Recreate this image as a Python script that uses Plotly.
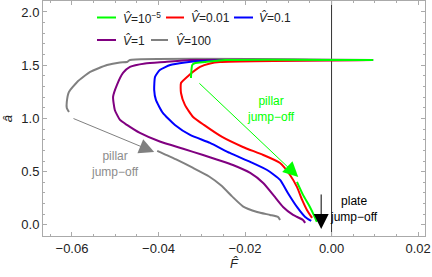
import plotly.graph_objects as go

# ---- data ----
v100_F = [0.0096, -0.0466, -0.0473, -0.0489, -0.0519, -0.0558, -0.0588, -0.0607, -0.0612, -0.0612, -0.0607,
          None,
          -0.0403, -0.0357, -0.0320, -0.0283, -0.0255, -0.0230, -0.0205, -0.0172, -0.0142, -0.0124, -0.0119]
v100_a = [1.549, 1.549, 1.530, 1.526, 1.502, 1.437, 1.343, 1.249, 1.155, 1.099, 1.061,
          None,
          0.695, 0.610, 0.535, 0.455, 0.370, 0.268, 0.175, 0.122, 0.094, 0.075, 0.047]

v1_F = [0.0096, -0.0327, -0.0385, -0.0431, -0.0466, -0.0482, -0.0496, -0.0505, -0.0501, -0.0489, -0.0473,
        -0.0443, -0.0397, -0.0343, -0.0297, -0.0262, -0.0228, -0.0188, -0.0158, -0.0131, -0.0112, -0.0089,
        -0.0066, -0.0061]
v1_a = [1.549, 1.549, 1.530, 1.516, 1.484, 1.427, 1.315, 1.202, 1.080, 0.986, 0.939,
        0.864, 0.783, 0.715, 0.657, 0.610, 0.563, 0.488, 0.394, 0.263, 0.169, 0.094,
        0.047, 0.019]

v01_F = [0.0096, -0.0304, -0.0339, -0.0373, -0.0397, -0.0408, -0.0410, -0.0406, -0.0390, -0.0362, -0.0327,
         -0.0281, -0.0235, -0.0188, -0.0149, -0.0119, -0.0101, -0.0080, -0.0061, -0.0047]
v01_a = [1.549, 1.540, 1.526, 1.502, 1.455, 1.390, 1.268, 1.174, 1.052, 0.939, 0.845,
         0.770, 0.676, 0.592, 0.516, 0.423, 0.300, 0.169, 0.075, 0.038]

v001_F = [0.0096, -0.0258, -0.0281, -0.0304, -0.0329, -0.0348, -0.0348, -0.0339, -0.0320, -0.0295, -0.0253,
          -0.0205, -0.0158, -0.0119, -0.0096, -0.0080, -0.0068, -0.0057, -0.0045]
v001_a = [1.549, 1.530, 1.516, 1.484, 1.408, 1.333, 1.239, 1.127, 1.014, 0.939, 0.826,
          0.732, 0.657, 0.582, 0.469, 0.357, 0.235, 0.141, 0.066]

v1e5_F = [0.0096, -0.0246, -0.0292, -0.0315, -0.0322, -0.0325,
          None,
          -0.0080, -0.0066, -0.0050, -0.0038, -0.0034]
v1e5_a = [1.549, 1.549, 1.530, 1.521, 1.502, 1.380,
          None,
          0.404, 0.282, 0.169, 0.066, 0.028]

series_names = ["<i>V̂</i>=100", "<i>V̂</i>=1", "<i>V̂</i>=0.1", "<i>V̂</i>=0.01", "<i>V̂</i>=10<sup>−5</sup>"]
series_F = [v100_F, v1_F, v01_F, v001_F, v1e5_F]
series_a = [v100_a, v1_a, v01_a, v001_a, v1e5_a]
colors = ["#808080", "#800080", "#0000FF", "#FF0000", "#00FF00"]

x_ticks = [-0.06, -0.04, -0.02, 0.0, 0.02]
x_ticklabels = ["−0.06", "−0.04", "−0.02", "0.00", "0.02"]
y_ticks = [0.0, 0.5, 1.0, 1.5, 2.0]
y_ticklabels = ["0.0", "0.5", "1.0", "1.5", "2.0"]

FONT = "Liberation Sans, Arial, sans-serif"

fig = go.Figure()
for F, a, c, n in zip(series_F, series_a, colors, series_names):
    fig.add_trace(go.Scatter(x=F, y=a, mode="lines", name=n, showlegend=False,
                             line=dict(color=c, width=2, shape="spline", smoothing=0.5),
                             connectgaps=False, hoverinfo="skip"))

# vertical line at F = 0
fig.add_shape(type="line", xref="x", yref="paper", x0=0, x1=0, y0=0, y1=1,
              line=dict(color="#333333", width=1), layer="below")

# manual legend (paper coords)
leg = [  # (x0, x1, y, color, text_x, label)
    (97, 116, 17.5, colors[4], 121, series_names[4]),
    (166, 184, 17.5, colors[3], 189, series_names[3]),
    (234, 253, 17.5, colors[2], 257, series_names[2]),
    (97, 116, 40, colors[1], 121, series_names[1]),
    (151, 168, 40, colors[0], 174, series_names[0]),
]
L, R, T, B = 43, 425, 1, 236
def px(x):
    return (x - L) / (R - L)
def py(y):
    return 1 - (y - T) / (B - T)
for x0, x1, yy, c, tx, lab in leg:
    fig.add_shape(type="line", xref="paper", yref="paper", x0=px(x0), x1=px(x1), y0=py(yy), y1=py(yy),
                  line=dict(color=c, width=2))
    fig.add_annotation(xref="paper", yref="paper", x=px(tx), y=py(yy), text=lab, showarrow=False,
                       xanchor="left", yanchor="middle", font=dict(size=12, color="#222222", family=FONT))

# arrows
fig.add_annotation(x=-0.0077, y=0.451, ax=-0.0309, ay=1.343, xref="x", yref="y", axref="x", ayref="y",
                   text="", showarrow=True, arrowhead=2, arrowsize=3, arrowwidth=1, arrowcolor="#00FF00")
fig.add_annotation(x=-0.0410, y=0.685, ax=-0.0600, ay=1.005, xref="x", yref="y", axref="x", ayref="y",
                   text="", showarrow=True, arrowhead=2, arrowsize=3, arrowwidth=1, arrowcolor="#808080")
fig.add_annotation(x=-0.0024, y=-0.038, ax=-0.0024, ay=0.300, xref="x", yref="y", axref="x", ayref="y",
                   text="", showarrow=True, arrowhead=2, arrowsize=3, arrowwidth=1, arrowcolor="#000000")

# labels
fig.add_annotation(x=-0.0501, y=0.575, text="pillar<br>jump−off", showarrow=False,
                   font=dict(size=12, color="#8c8c8c", family=FONT))
fig.add_annotation(x=-0.0140, y=1.09, text="pillar<br>jump−off", showarrow=False,
                   font=dict(size=12, color="#00FF00", family=FONT))
fig.add_annotation(x=0.0053, y=0.145, text="plate<br>jump−off", showarrow=False,
                   font=dict(size=12, color="#000000", family=FONT))

axis_common = dict(showline=True, linecolor="#aaaaaa", linewidth=1, mirror="allticks",
                   ticks="inside", ticklen=4, tickcolor="#aaaaaa", showgrid=False, zeroline=False,
                   automargin=False,
                   tickfont=dict(size=13, color="#222222", family=FONT))

fig.update_layout(
    width=432, height=277,
    margin=dict(l=L, r=432 - R, t=T, b=277 - B),
    paper_bgcolor="white", plot_bgcolor="white",
    hovermode=False,
    xaxis=dict(range=[-0.0667, 0.0216], tickvals=x_ticks, ticktext=x_ticklabels,
               minor=dict(dtick=0.005, tick0=0, ticks="inside", ticklen=2, tickcolor="#aaaaaa"),
               title=dict(text="<i>F̂</i>", font=dict(size=13, color="#222222", family=FONT), standoff=4),
               **axis_common),
    yaxis=dict(range=[-0.104, 2.103], tickvals=y_ticks, ticktext=y_ticklabels,
               minor=dict(dtick=0.1, tick0=0, ticks="inside", ticklen=2, tickcolor="#aaaaaa"),
               title=dict(text="<i>â</i>", font=dict(size=13, color="#222222", family=FONT), standoff=6),
               **axis_common),
)

fig.write_html("out.html", config={"displayModeBar": False},
               post_script="document.body.style.margin='0';document.body.style.padding='0';")
